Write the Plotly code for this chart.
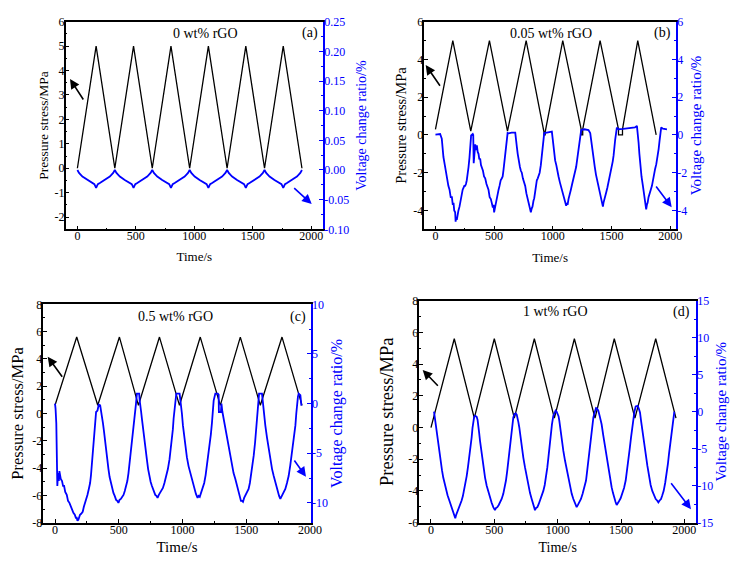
import plotly.graph_objects as go

FONT = "Liberation Serif"
BLUE = "#0000ff"
BLACK = "#000000"
# the page body keeps its default 8px margin, so the figure is drawn 8px in
OX, OY = 8, 8
W, H = 749 - OX, 562 - OY

# ---------------- data ----------------
# (a) 0 wt% rGO
A_PT = [0, 160, 320, 480, 640, 800, 960, 1120, 1280, 1440, 1600, 1760, 1920]
A_PV = [0, 5, 0, 5, 0, 5, 0, 5, 0, 5, 0, 5, 0]
A_VT = [0, 14, 43, 85, 128, 145, 160, 175, 192, 235, 277, 306,
        320, 334, 363, 405, 448, 465, 480, 495, 512, 555, 597, 626,
        640, 654, 683, 725, 768, 785, 800, 815, 832, 875, 917, 946,
        960, 974, 1003, 1045, 1088, 1105, 1120, 1135, 1152, 1195, 1237, 1266,
        1280, 1294, 1323, 1365, 1408, 1425, 1440, 1455, 1472, 1515, 1557, 1586,
        1600, 1614, 1643, 1685, 1728, 1745, 1760, 1775, 1792, 1835, 1877, 1906,
        1920]
A_VV = [0, -0.005, -0.011, -0.017, -0.022, -0.024, -0.030, -0.024, -0.022, -0.017, -0.011, -0.005,
        0, -0.005, -0.011, -0.017, -0.022, -0.024, -0.030, -0.024, -0.022, -0.017, -0.011, -0.005,
        0, -0.005, -0.011, -0.017, -0.022, -0.024, -0.030, -0.024, -0.022, -0.017, -0.011, -0.005,
        0, -0.005, -0.011, -0.017, -0.022, -0.024, -0.030, -0.024, -0.022, -0.017, -0.011, -0.005,
        0, -0.005, -0.011, -0.017, -0.022, -0.024, -0.030, -0.024, -0.022, -0.017, -0.011, -0.005,
        0, -0.005, -0.011, -0.017, -0.022, -0.024, -0.030, -0.024, -0.022, -0.017, -0.011, -0.005,
        0]

# (b) 0.05 wt% rGO
B_PT = [0, 148, 301, 460, 614, 773, 925, 925, 935, 935, 1085, 1242, 1242, 1255, 1255,
        1403, 1560, 1560, 1594, 1594, 1724, 1881]
B_PV = [0.3, 5, 0.2, 5, 0.2, 5, 0.15, 0.0, 0.0, 0.15, 5, 0.3, 0.0, 0.0, 0.3,
        5, 0.3, 0.0, 0.0, 0.3, 5, 0.0]
B_VT = [0, 40, 54, 62, 68, 80, 91, 100, 110, 120, 130, 140, 148, 154, 160, 168, 172, 176, 182, 188,
        196, 205, 215, 225, 232, 239, 246, 253, 260, 267, 275, 282, 290, 296, 304, 318, 322, 326, 330, 335,
        339, 345, 353, 360, 367, 374, 381, 388, 395, 405, 414, 424, 435, 445, 452, 462, 472, 480, 489, 495,
        500, 506, 515, 523, 530, 538, 546, 556, 566, 573, 580, 588, 594, 601, 608, 615, 623, 650, 680, 688,
        694, 701, 708, 720, 728, 736, 745, 755, 765, 775, 785, 794, 802, 808, 813, 820, 827, 835, 842, 850,
        857, 864, 872, 879, 888, 898, 906, 915, 922, 927, 960, 992, 999, 1006, 1013, 1020, 1030, 1040, 1049, 1060,
        1068, 1077, 1087, 1097, 1105, 1114, 1120, 1126, 1134, 1144, 1154, 1165, 1177, 1188, 1199, 1210, 1219, 1226, 1233, 1242,
        1270, 1304, 1319, 1330, 1340, 1347, 1358, 1368, 1376, 1387, 1398, 1408, 1418, 1427, 1432, 1438, 1446, 1455, 1465, 1475,
        1482, 1489, 1497, 1504, 1511, 1518, 1525, 1532, 1546, 1560, 1600, 1650, 1700, 1717, 1724, 1731, 1738, 1745, 1756, 1768,
        1778, 1788, 1796, 1802, 1808, 1816, 1825, 1835, 1845, 1855, 1865, 1872, 1882, 1892, 1902, 1910, 1916, 1924, 1938, 1958,
        1973]
B_VV = [0.02, 0.05, -0.2, -0.8, -1.17, -1.6, -2.1, -2.3, -2.7, -2.9, -3.3, -3.3, -3.7, -3.6, -4.0, -4.1, -4.6, -4.4, -4.5, -4.2,
        -4.0, -3.8, -3.4, -3.25, -2.9, -2.8, -2.7, -2.7, -2.6, -2.4, -2.1, -1.7, -1.2, -0.65, -0.03, 0.05, 0.0, -1.5, -1.0, -0.7,
        -0.5, -0.8, -0.55, -0.9, -1.0, -1.3, -1.25, -1.6, -1.7, -1.9, -2.2, -2.3, -2.6, -2.8, -2.9, -3.3, -3.4, -3.6, -3.85, -3.7,
        -4.1, -3.9, -3.6, -3.4, -3.0, -2.9, -2.7, -2.4, -2.3, -2.2, -1.85, -1.4, -1.0, -0.5, -0.12, 0.1, 0.08, 0.12, 0.12, -0.2,
        -0.65, -1.0, -1.35, -1.7, -1.9, -2.0, -2.3, -2.5, -2.7, -3.1, -3.4, -3.6, -3.85, -3.9, -4.1, -3.9, -3.8, -3.5, -3.35, -3.0,
        -2.6, -2.4, -2.3, -2.2, -2.0, -1.6, -1.2, -0.65, -0.2, 0.1, 0.14, 0.18, -0.2, -0.65, -1.0, -1.35, -1.6, -2.0, -2.2, -2.5,
        -2.7, -2.9, -3.2, -3.4, -3.5, -3.75, -3.6, -3.7, -3.4, -3.2, -2.9, -2.6, -2.3, -2.1, -1.7, -1.2, -0.8, -0.4, 0.05, 0.26,
        0.3, 0.26, 0.1, -0.5, -1.0, -1.3, -1.7, -2.1, -2.35, -2.6, -3.05, -3.3, -3.6, -3.8, -3.6, -3.4, -3.3, -3.05, -2.8, -2.5,
        -2.3, -2.1, -2.0, -1.8, -1.4, -1.1, -0.6, -0.23, 0.39, 0.3, 0.32, 0.35, 0.4, 0.48, 0.1, -0.4, -1.0, -1.65, -2.2, -2.7,
        -3.1, -3.6, -3.95, -3.7, -3.6, -3.3, -3.05, -2.9, -2.7, -2.3, -2.0, -1.8, -1.55, -1.2, -0.75, -0.3, 0.12, 0.4, 0.33, 0.3,
        0.3]

# (c) 0.5 wt% rGO
C_PT = [0, 170, 335, 505, 654, 819, 976, 1139, 1296, 1453, 1610, 1780, 1937]
C_PV = [0.6, 5.6, 0.6, 5.6, 0.6, 5.6, 0.6, 5.6, 0.6, 5.6, 0.6, 5.6, 0.6]
C_VT = [0, 4, 10, 18, 24, 30, 34, 40, 45, 55, 63, 71, 80, 92, 102, 113, 122, 131, 138, 144,
        155, 163, 170, 176, 183, 190, 196, 205, 217, 226, 236, 245, 254, 265, 275, 282, 288, 295, 301, 308,
        314, 318, 322, 333, 338, 343, 354, 360, 367, 376, 385, 393, 401, 410, 419, 428, 437, 447, 458, 468,
        479, 488, 497, 506, 516, 526, 537, 547, 558, 567, 576, 585, 594, 604, 615, 622, 628, 635, 642, 660,
        664, 668, 675, 681, 690, 699, 710, 720, 730, 741, 750, 760, 772, 786, 795, 804, 814, 825, 835, 846,
        858, 872, 885, 898, 908, 917, 924, 930, 937, 943, 951, 977, 983, 988, 995, 1003, 1012, 1021, 1034, 1047,
        1060, 1074, 1083, 1092, 1105, 1118, 1126, 1135, 1144, 1157, 1170, 1181, 1191, 1202, 1212, 1222, 1231, 1238, 1244, 1257,
        1276, 1283, 1285, 1301, 1305, 1312, 1327, 1344, 1361, 1374, 1387, 1400, 1414, 1427, 1440, 1450, 1458, 1466, 1474, 1483,
        1492, 1505, 1518, 1528, 1537, 1548, 1558, 1569, 1579, 1586, 1592, 1600, 1623, 1627, 1631, 1640, 1649, 1662, 1675, 1688,
        1702, 1715, 1728, 1737, 1746, 1757, 1767, 1778, 1788, 1797, 1806, 1819, 1832, 1845, 1859, 1872, 1885, 1892, 1898, 1905,
        1911, 1924, 1932]
C_VV = [0.0, -0.5, -2.0, -8.3, -7.0, -7.8, -6.8, -7.5, -7.6, -7.8, -8.3, -8.3, -8.9, -9.2, -9.8, -10.0, -10.3, -10.5, -10.9, -11.0,
        -11.2, -11.5, -11.5, -11.8, -11.7, -11.4, -11.2, -11.1, -10.9, -10.4, -10.0, -9.6, -9.2, -8.6, -8.0, -7.2, -6.3, -5.2, -4.3, -3.2,
        -2.2, -1.2, -0.85, -0.7, -0.2, -0.1, -0.17, -0.6, -1.2, -2.0, -2.9, -3.9, -4.9, -5.8, -6.6, -7.4, -8.0, -8.6, -9.0, -9.3,
        -9.7, -9.8, -10.0, -9.7, -9.6, -9.4, -9.2, -8.8, -8.3, -7.8, -7.0, -6.0, -4.9, -3.7, -2.5, -1.6, -0.85, 0.0, 1.0, 1.0,
        0.3, 0.0, -0.8, -1.5, -2.6, -3.6, -4.7, -5.6, -6.6, -7.4, -7.9, -8.3, -8.8, -9.2, -9.3, -9.5, -9.2, -9.0, -8.8, -8.5,
        -8.0, -7.4, -6.6, -5.6, -4.6, -3.6, -2.6, -1.5, -0.5, 0.5, 1.0, 1.0, 0.4, 0.0, -1.0, -2.2, -3.3, -4.3, -5.4, -6.3,
        -7.0, -7.6, -8.1, -8.6, -9.1, -9.5, -9.3, -9.4, -9.0, -8.6, -8.0, -7.2, -6.3, -5.4, -4.3, -3.1, -1.9, -0.8, 0.3, 1.0,
        1.0, 0.9, -0.85, -0.85, 0.0, -0.8, -1.9, -3.1, -4.2, -5.3, -6.3, -7.0, -7.6, -8.3, -9.0, -9.4, -9.8, -9.8, -9.9, -9.5,
        -9.3, -9.0, -8.6, -8.0, -7.3, -6.3, -5.25, -3.9, -2.5, -1.4, -0.5, 1.0, 1.0, 0.4, 0.0, -1.1, -2.2, -3.4, -4.6, -5.6,
        -6.6, -7.3, -8.0, -8.5, -9.0, -9.3, -9.6, -9.3, -9.15, -8.9, -8.6, -8.0, -7.3, -6.2, -4.9, -3.5, -2.2, -1.0, 0.2, 0.7,
        1.0, 0.85, -0.2]

# (d) 1 wt% rGO
D_PT = [0, 184, 342, 500, 658, 816, 974, 1132, 1295, 1447, 1610, 1774, 1934]
D_PV = [0, 5.6, 0.6, 5.6, 0.6, 5.6, 0.6, 5.6, 0.6, 5.6, 0.6, 5.6, 0.6]
D_VT = [24, 32, 39, 48, 58, 67, 76, 87, 97, 108, 118, 131, 145, 154, 163, 173, 182, 192, 198, 203,
        213, 224, 233, 242, 252, 261, 271, 282, 292, 303, 312, 321, 328, 334, 341, 348, 361, 368, 374, 380,
        387, 395, 403, 415, 427, 440, 453, 466, 479, 492, 505, 514, 524, 535, 545, 558, 571, 582, 592, 602,
        611, 620, 629, 640, 650, 660, 669, 677, 684, 690, 697, 706, 716, 729, 742, 756, 769, 782, 795, 808,
        821, 830, 840, 850, 861, 874, 887, 898, 908, 918, 927, 936, 945, 955, 966, 975, 984, 992, 1000, 1007,
        1013, 1022, 1032, 1045, 1058, 1071, 1084, 1098, 1111, 1124, 1137, 1150, 1160, 1171, 1184, 1197, 1211, 1224, 1233, 1242,
        1251, 1260, 1271, 1282, 1292, 1303, 1310, 1321, 1332, 1347, 1360, 1374, 1387, 1400, 1413, 1426, 1437, 1447, 1457, 1466,
        1475, 1484, 1497, 1511, 1524, 1537, 1548, 1558, 1569, 1579, 1588, 1597, 1606, 1616, 1632, 1641, 1650, 1659, 1668, 1682,
        1695, 1708, 1721, 1734, 1747, 1760, 1774, 1785, 1795, 1805, 1816, 1826, 1837, 1849, 1861, 1870, 1879, 1890, 1900, 1908,
        1916, 1921]
D_VV = [0.0, -1.0, -2.1, -3.4, -4.8, -5.6, -6.6, -7.9, -8.9, -9.8, -10.7, -11.3, -12.0, -12.5, -12.9, -13.3, -13.8, -14.4, -14.0, -13.8,
        -13.4, -12.9, -12.5, -12.0, -11.4, -10.7, -9.8, -8.7, -7.5, -6.2, -4.9, -3.5, -2.2, -1.2, -0.7, -0.54, -0.68, -1.1, -1.7, -2.8,
        -3.9, -5.0, -6.2, -7.6, -8.9, -10.0, -10.9, -11.7, -12.3, -12.9, -13.3, -13.0, -12.9, -12.6, -12.3, -11.8, -11.1, -10.3, -9.3, -8.0,
        -6.6, -5.0, -3.5, -2.0, -0.77, -0.3, -0.23, -0.4, -0.77, -1.4, -2.1, -3.4, -4.8, -6.2, -7.5, -8.8, -10.0, -11.0, -11.8, -12.6,
        -13.3, -13.0, -12.9, -12.5, -12.0, -11.4, -10.7, -9.9, -8.9, -7.6, -6.2, -4.6, -3.0, -1.7, -0.54, -0.1, 0.14, 0.0, -0.23, -0.6,
        -1.2, -2.5, -3.9, -5.3, -6.6, -7.8, -8.9, -10.0, -11.1, -11.8, -12.5, -12.9, -12.6, -12.3, -11.8, -11.1, -10.3, -9.3, -8.0, -6.6,
        -5.0, -3.5, -2.1, -0.77, -0.1, 0.5, 0.45, 0.14, -0.6, -1.7, -3.2, -4.8, -6.2, -7.5, -8.9, -10.2, -11.0, -11.8, -12.2, -12.6,
        -12.4, -12.1, -11.7, -11.1, -10.3, -9.3, -8.0, -6.6, -5.0, -3.5, -2.1, -0.77, 0.0, 0.7, 0.8, 0.4, -0.1, -1.3, -2.6, -4.2,
        -5.7, -7.3, -8.9, -9.9, -10.7, -11.3, -11.8, -12.0, -12.25, -12.0, -11.8, -11.3, -10.7, -9.6, -8.4, -7.1, -5.7, -4.1, -2.6, -1.4,
        -0.3, 0.0]

X_TICKS = [0, 500, 1000, 1500, 2000]
A_LTICKS = [-2, -1, 0, 1, 2, 3, 4, 5, 6]
A_RTICKS = [-0.10, -0.05, 0.00, 0.05, 0.10, 0.15, 0.20, 0.25]
B_LTICKS = [-4, -2, 0, 2, 4, 6]
B_RTICKS = [-4, -2, 0, 2, 4, 6]
C_LTICKS = [-8, -6, -4, -2, 0, 2, 4, 6, 8]
C_RTICKS = [-10, -5, 0, 5, 10]
D_LTICKS = [-6, -4, -2, 0, 2, 4, 6, 8]
D_RTICKS = [-15, -10, -5, 0, 5, 10, 15]

LABELS = ["0 wt% rGO", "0.05 wt% rGO", "0.5 wt% rGO", "1 wt% rGO"]
TAGS = ["(a)", "(b)", "(c)", "(d)"]

# ---------------- layout helpers (screen pixel -> paper) ----------------
def fx(px):
    return (px - OX) / W

def fy(py):
    return 1 - (py - OY) / H

panels = [
    dict(pt=A_PT, pv=A_PV, vt=A_VT, vv=A_VV, box=(65.7, 323, 21.7, 229.3), xr=[-100, 2100],
         yl=[-2.5, 6], yr=[-0.1, 0.25], lt=A_LTICKS, rt=A_RTICKS, lfmt="{:g}", rfmt="{:.2f}",
         lminor=0.5, rminor=0.025, ltf=13.5, rtf=14, xtf=13, xsd=9, lsd=3, rsd=8,
         lab=(205, 33.3), tag=(310, 33.3),
         karr=(70, 79, 14.3, 22), barr=(311.7, 204, -19, -17.3)),
    dict(pt=B_PT, pv=B_PV, vt=B_VT, vv=B_VV, box=(424.3, 676, 21.7, 229.3), xr=[-95, 2050],
         yl=[-5, 6], yr=[-5, 6], lt=B_LTICKS, rt=B_RTICKS, lfmt="{:g}", rfmt="{:g}",
         lminor=1, rminor=1, ltf=14.5, rtf=15, xtf=13, xsd=10, lsd=3, rsd=4,
         lab=(551, 33.3), tag=(662.3, 33.3),
         karr=(425.7, 65, 15.3, 22.3), barr=(671.7, 207.3, -16.7, -22.3)),
    dict(pt=C_PT, pv=C_PV, vt=C_VT, vv=C_VV, box=(43.3, 310.7, 304.3, 522.7), xr=[-92, 2005],
         yl=[-8, 8], yr=[-12, 10], lt=C_LTICKS, rt=C_RTICKS, lfmt="{:g}", rfmt="{:g}",
         lminor=1, rminor=2.5, ltf=16.5, rtf=16, xtf=15, xsd=6, lsd=4, rsd=4,
         lab=(175, 316.7), tag=(298.3, 316.7),
         karr=(47.7, 356.7, 15.6, 21.6), barr=(306, 476.7, -12.7, -17.7)),
    dict(pt=D_PT, pv=D_PV, vt=D_VT, vv=D_VV, box=(419.3, 696, 300.7, 522.7), xr=[-92, 2092],
         yl=[-6, 8], yr=[-15, 15], lt=D_LTICKS, rt=D_RTICKS, lfmt="{:g}", rfmt="{:g}",
         lminor=1, rminor=2.5, ltf=18.5, rtf=15, xtf=14, xsd=6, lsd=10, rsd=0,
         lab=(555, 311.7), tag=(681, 311.7),
         karr=(422.7, 370, 16.6, 17.3), barr=(691, 509.3, -21, -27.6)),
]

fig = go.Figure()
layout = dict(
    width=W, height=H, autosize=False,
    margin=dict(l=0, r=0, t=0, b=0, pad=0, autoexpand=False),
    paper_bgcolor="white", plot_bgcolor="white",
    showlegend=False,
    font=dict(family=FONT, size=12, color=BLACK),
)
annotations = []

for i, p in enumerate(panels):
    n = i + 1
    xname = "x" if n == 1 else f"x{n}"
    yl_n = 2 * n - 1
    yr_n = 2 * n
    ylname = "y" if yl_n == 1 else f"y{yl_n}"
    yrname = f"y{yr_n}"
    xkey = "xaxis" if n == 1 else f"xaxis{n}"
    ylkey = "yaxis" if yl_n == 1 else f"yaxis{yl_n}"
    yrkey = f"yaxis{yr_n}"
    x0, x1, top, bot = p["box"]

    fig.add_trace(go.Scatter(x=p["pt"], y=p["pv"], mode="lines", xaxis=xname, yaxis=ylname,
                             line=dict(color=BLACK, width=1.3), name="Pressure stress"))
    fig.add_trace(go.Scatter(x=p["vt"], y=p["vv"], mode="lines", xaxis=xname, yaxis=yrname,
                             line=dict(color=BLUE, width=1.8), name="Voltage change ratio"))

    layout[xkey] = dict(
        domain=[fx(x0), fx(x1)], anchor=ylname, range=p["xr"], automargin=False,
        tickvals=X_TICKS, ticktext=[str(v) for v in X_TICKS],
        ticks="inside", ticklen=4, tickcolor=BLACK, tickwidth=1, ticklabelstandoff=-5,
        minor=dict(ticks="inside", ticklen=2, dtick=250, tick0=0, tickcolor=BLACK),
        showline=True, linecolor=BLACK, linewidth=1.5, mirror=True,
        showgrid=False, zeroline=False,
        tickfont=dict(family=FONT, size=12, color=BLACK),
        title=dict(text="Time/s", font=dict(family=FONT, size=p["xtf"], color=BLACK), standoff=p["xsd"]),
    )
    layout[ylkey] = dict(
        domain=[fy(bot), fy(top)], anchor=xname, range=p["yl"], automargin=False,
        tickvals=p["lt"], ticktext=[p["lfmt"].format(v) for v in p["lt"]],
        ticks="inside", ticklen=4, tickcolor=BLACK, ticklabelstandoff=-3,
        minor=dict(ticks="inside", ticklen=2, dtick=p["lminor"], tick0=0, tickcolor=BLACK),
        showline=True, linecolor=BLACK, linewidth=1.5,
        showgrid=False, zeroline=False,
        tickfont=dict(family=FONT, size=12, color=BLACK),
        title=dict(text="Pressure stress/MPa", font=dict(family=FONT, size=p["ltf"], color=BLACK),
                   standoff=p["lsd"]),
    )
    layout[yrkey] = dict(
        overlaying=ylname, side="right", anchor=xname, range=p["yr"], automargin=False,
        tickvals=p["rt"], ticktext=[p["rfmt"].format(v) for v in p["rt"]],
        ticks="inside", ticklen=4, tickcolor=BLUE, ticklabelstandoff=-3,
        minor=dict(ticks="inside", ticklen=2, dtick=p["rminor"], tick0=0, tickcolor=BLUE),
        showline=True, linecolor=BLUE, linewidth=1.6,
        showgrid=False, zeroline=False,
        tickfont=dict(family=FONT, size=12, color=BLUE),
        title=dict(text="Voltage change ratio/%", font=dict(family=FONT, size=p["rtf"], color=BLUE),
                   standoff=p["rsd"]),
    )

    lx, ly = p["lab"]
    annotations.append(dict(x=fx(lx), y=fy(ly), xref="paper", yref="paper", text=LABELS[i],
                            showarrow=False, font=dict(family=FONT, size=14, color=BLACK),
                            xanchor="center", yanchor="middle"))
    tx, ty = p["tag"]
    annotations.append(dict(x=fx(tx), y=fy(ty), xref="paper", yref="paper", text=TAGS[i],
                            showarrow=False, font=dict(family=FONT, size=14, color=BLACK),
                            xanchor="center", yanchor="middle"))
    hx, hy, ax, ay = p["karr"]
    annotations.append(dict(x=fx(hx), y=fy(hy), xref="paper", yref="paper", text="",
                            showarrow=True, ax=ax, ay=ay, arrowhead=2, arrowsize=1.2,
                            arrowwidth=1.6, arrowcolor=BLACK))
    hx, hy, ax, ay = p["barr"]
    annotations.append(dict(x=fx(hx), y=fy(hy), xref="paper", yref="paper", text="",
                            showarrow=True, ax=ax, ay=ay, arrowhead=2, arrowsize=1.2,
                            arrowwidth=1.6, arrowcolor=BLUE))

layout["annotations"] = annotations
fig.update_layout(**layout)
fig.write_html("out.html")
